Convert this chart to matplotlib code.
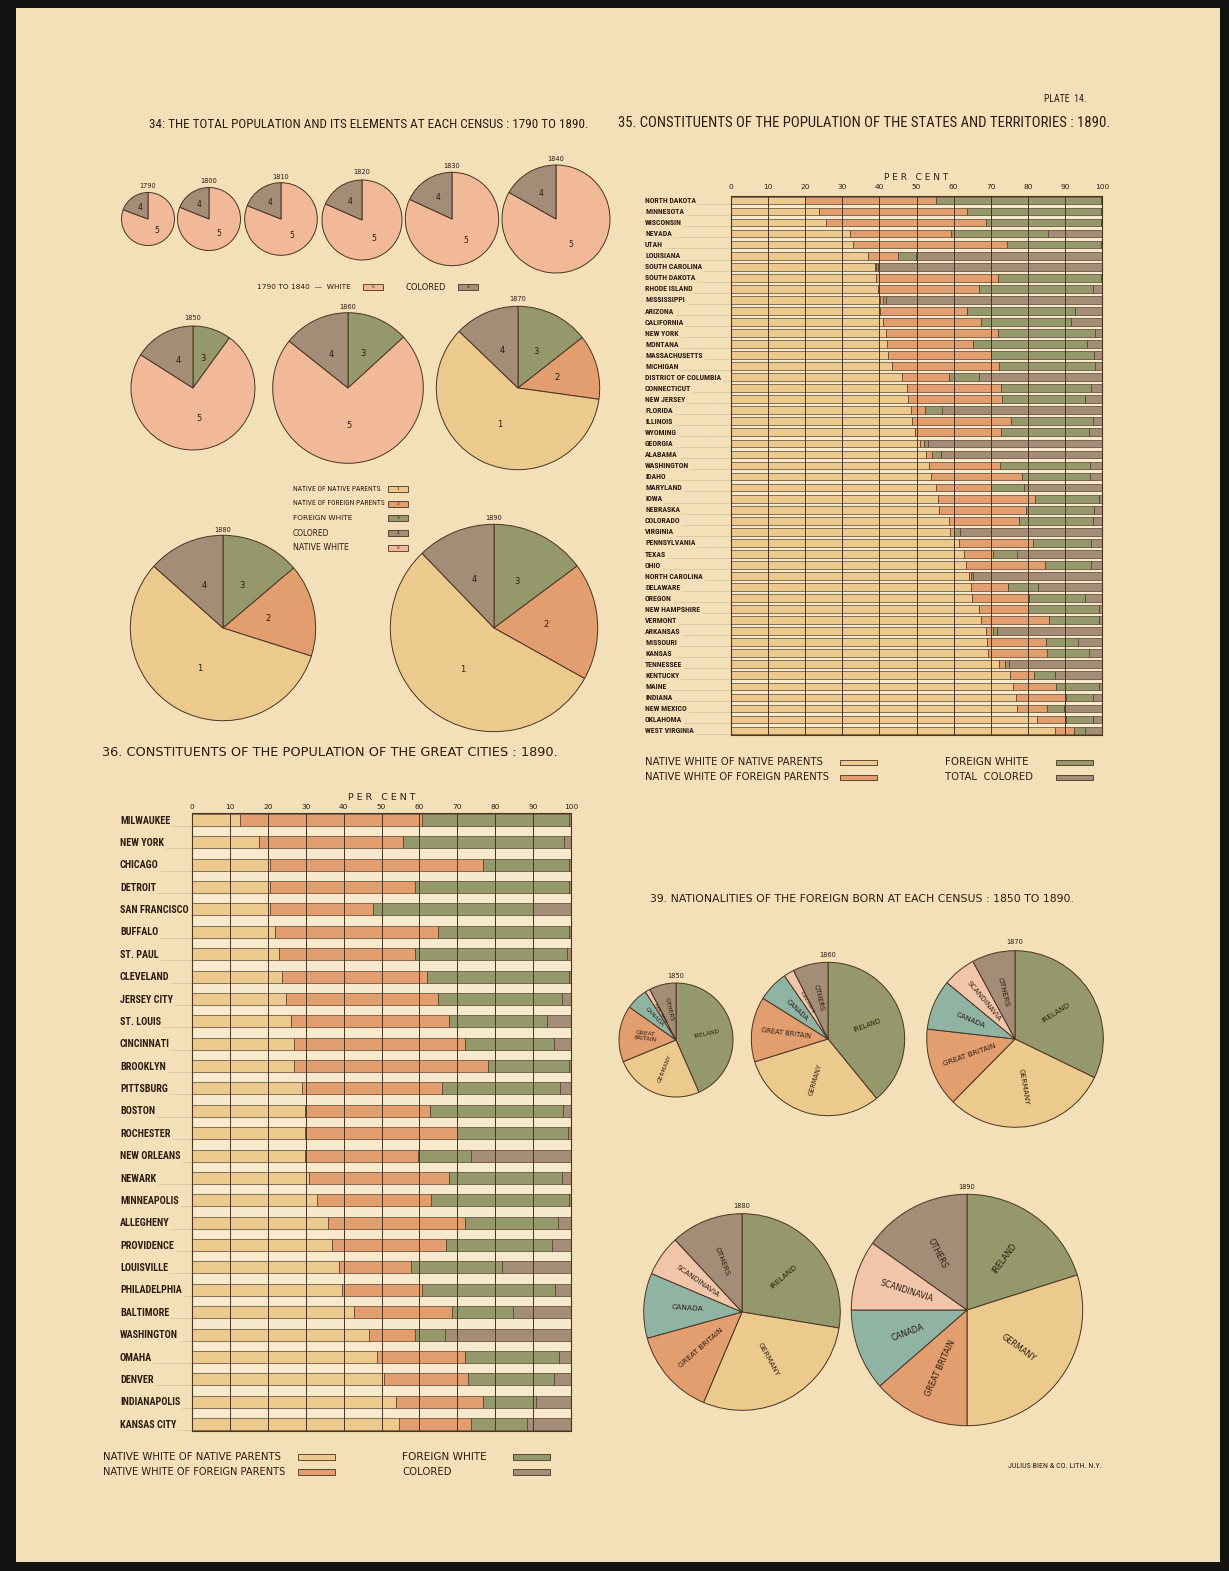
import matplotlib
matplotlib.use("Agg")
import matplotlib.pyplot as plt
import numpy as np
from matplotlib.patches import Rectangle
from matplotlib.transforms import blended_transform_factory
from matplotlib import font_manager as fm

W, H = 1229, 1571

# ---------------- DATA ----------------
# Plate 34: total population and its elements (per cent)
years_early = ["1790", "1800", "1810", "1820", "1830", "1840"]
white_early = [80.7, 81.1, 81.0, 81.6, 81.9, 83.2]
colored_early = [19.3, 18.9, 19.0, 18.4, 18.1, 16.8]

years_mid = ["1850", "1860"]
foreign_mid = [10.0, 13.2]
native_white_mid = [74.0, 72.5]
colored_mid = [16.0, 14.3]

years_late = ["1870", "1880", "1890"]
foreign_late = [14.4, 13.8, 14.8]
native_foreign_par_late = [12.8, 16.1, 18.3]
native_native_par_late = [60.0, 56.7, 54.7]
colored_late = [12.8, 13.4, 12.2]

# Plate 35: states and territories, 1890 (per cent)
states = ["NORTH DAKOTA", "MINNESOTA", "WISCONSIN", "NEVADA", "UTAH", "LOUISIANA",
          "SOUTH CAROLINA", "SOUTH DAKOTA", "RHODE ISLAND", "MISSISSIPPI", "ARIZONA",
          "CALIFORNIA", "NEW YORK", "MONTANA", "MASSACHUSETTS", "MICHIGAN",
          "DISTRICT OF COLUMBIA", "CONNECTICUT", "NEW JERSEY", "FLORIDA", "ILLINOIS",
          "WYOMING", "GEORGIA", "ALABAMA", "WASHINGTON", "IDAHO", "MARYLAND", "IOWA",
          "NEBRASKA", "COLORADO", "VIRGINIA", "PENNSYLVANIA", "TEXAS", "OHIO",
          "NORTH CAROLINA", "DELAWARE", "OREGON", "NEW HAMPSHIRE", "VERMONT", "ARKANSAS",
          "MISSOURI", "KANSAS", "TENNESSEE", "KENTUCKY", "MAINE", "INDIANA",
          "NEW MEXICO", "OKLAHOMA", "WEST VIRGINIA"]
st_native_native = [20.0, 23.6, 25.6, 32.1, 32.8, 37.0, 38.7, 39.0, 39.7, 40.1, 40.2,
                    41.0, 41.7, 42.1, 42.4, 43.4, 46.2, 47.5, 47.8, 48.4, 48.7, 49.6,
                    50.9, 52.6, 53.4, 53.9, 55.2, 55.7, 56.1, 58.8, 59.0, 61.5, 62.8,
                    63.3, 64.2, 64.6, 64.9, 66.9, 67.3, 68.7, 69.1, 69.4, 72.2, 75.1,
                    76.0, 76.7, 77.2, 82.5, 87.2]
st_native_foreign = [35.2, 40.1, 43.2, 27.1, 41.5, 8.1, 0.5, 33.0, 27.1, 1.0, 23.5,
                     26.4, 30.3, 23.2, 27.6, 28.8, 12.5, 25.3, 25.3, 3.9, 26.9, 23.2,
                     1.1, 1.6, 19.1, 24.6, 14.8, 26.2, 23.3, 18.8, 1.2, 19.9, 7.8,
                     21.3, 0.4, 10.1, 15.4, 13.2, 18.4, 1.8, 15.9, 15.8, 1.7, 6.5,
                     11.5, 13.7, 7.9, 7.7, 5.2]
st_foreign_white = [44.6, 36.1, 31.0, 26.3, 25.5, 4.7, 0.4, 27.7, 30.7, 0.8, 28.9,
                    24.3, 26.2, 30.7, 27.9, 26.0, 8.1, 24.3, 22.2, 4.5, 21.9, 23.8,
                    1.2, 2.4, 24.2, 18.2, 9.1, 17.2, 18.5, 20.0, 1.6, 15.6, 6.4,
                    12.4, 0.5, 8.1, 15.2, 19.0, 13.4, 1.3, 8.5, 11.2, 1.0, 5.7,
                    11.8, 7.1, 4.6, 7.3, 2.9]
st_colored = [0.2, 0.2, 0.2, 14.5, 0.2, 50.2, 60.4, 0.3, 2.5, 58.1, 7.4,
              8.3, 1.8, 4.0, 2.1, 1.8, 33.2, 2.9, 4.7, 43.2, 2.5, 3.4,
              46.8, 43.4, 3.3, 3.3, 20.9, 0.9, 2.1, 2.4, 38.2, 3.0, 23.0,
              3.0, 34.9, 17.2, 4.5, 0.9, 0.9, 28.2, 6.5, 3.6, 25.1, 12.7,
              0.7, 2.5, 10.3, 2.5, 4.7]

# Plate 36: great cities, 1890 (per cent)
cities = ["MILWAUKEE", "NEW YORK", "CHICAGO", "DETROIT", "SAN FRANCISCO", "BUFFALO",
          "ST. PAUL", "CLEVELAND", "JERSEY CITY", "ST. LOUIS", "CINCINNATI", "BROOKLYN",
          "PITTSBURG", "BOSTON", "ROCHESTER", "NEW ORLEANS", "NEWARK", "MINNEAPOLIS",
          "ALLEGHENY", "PROVIDENCE", "LOUISVILLE", "PHILADELPHIA", "BALTIMORE",
          "WASHINGTON", "OMAHA", "DENVER", "INDIANAPOLIS", "KANSAS CITY"]
ci_native_native = [12.7, 17.8, 20.7, 20.7, 20.7, 21.8, 22.9, 23.8, 24.9, 26.0, 26.9,
                    26.9, 29.0, 29.7, 29.7, 29.7, 30.9, 33.0, 35.9, 36.9, 38.8, 39.7,
                    42.8, 46.7, 48.9, 50.7, 53.8, 54.7]
ci_native_foreign = [47.9, 37.9, 56.2, 38.1, 27.1, 43.2, 35.9, 38.1, 40.1, 41.9, 45.0,
                     51.1, 36.9, 33.1, 40.1, 30.0, 37.0, 30.1, 36.1, 30.0, 19.1, 21.1,
                     25.7, 12.1, 23.0, 22.0, 23.1, 18.9]
ci_foreign_white = [39.0, 42.4, 22.7, 40.6, 42.3, 34.6, 40.1, 37.5, 32.6, 25.8, 23.7,
                    21.4, 31.1, 35.1, 29.4, 13.9, 29.7, 36.3, 24.6, 28.1, 24.0, 34.9,
                    16.2, 8.0, 25.0, 22.7, 13.9, 14.8]
ci_colored = [0.4, 1.9, 0.4, 0.6, 9.9, 0.4, 1.1, 0.6, 2.4, 6.3, 4.4,
              0.6, 3.0, 2.1, 0.8, 26.4, 2.4, 0.6, 3.4, 5.0, 18.1, 4.3,
              15.3, 33.2, 3.1, 4.6, 9.2, 11.6]

# Plate 39: nationalities of the foreign born (per cent)
fb_years = ["1850", "1860", "1870", "1880", "1890"]
fb_names = ["IRELAND", "GERMANY", "GREAT BRITAIN", "CANADA", "SCANDINAVIA", "OTHERS"]
fb_ireland = [43.4, 39.1, 32.2, 27.6, 20.1]
fb_germany = [25.4, 31.1, 30.2, 28.8, 29.9]
fb_britain = [16.0, 13.7, 14.4, 14.3, 13.6]
fb_canada = [6.2, 6.5, 9.2, 10.7, 11.4]
fb_scandinavia = [1.4, 2.2, 6.1, 6.7, 9.8]
fb_others = [7.6, 7.4, 7.9, 11.9, 15.2]

# ---------------- STYLE ----------------
C_NNP = "#ecc98d"   # native white of native parents
C_NFP = "#e29e6f"   # native white of foreign parents
C_FW = "#95986a"    # foreign white
C_COL = "#a48d76"   # colored
C_NW = "#f2b998"    # native white
C_CAN = "#90b4a4"   # canada
C_SCA = "#f1c5a9"   # scandinavia
PAPER = "#f3e0b8"
AXBG = "#f7e9cb"
EDGE = "#4a3323"
TXT = "#2a1c12"
SANS = ["DejaVu Sans"]


def find_condensed(bold):
    prefs = ["liberation sans narrow", "roboto condensed", "dejavu sans", "noto sans",
             "open sans", "arial narrow", "inter", "lato", "roboto"]
    cands = []
    for f in fm.fontManager.ttflist:
        nm = f.name.lower()
        fn = f.fname.lower()
        st = str(f.stretch).lower()
        cond = ("narrow" in nm or "condensed" in nm or "narrow" in fn or "condensed" in fn
                or st in ("condensed", "semi-condensed", "extra-condensed",
                          "ultra-condensed"))
        if not cond:
            continue
        if "italic" in str(f.style).lower() or "oblique" in str(f.style).lower():
            continue
        if "italic" in fn or "oblique" in fn:
            continue
        if "mono" in nm or "serif" in nm and "sans" not in nm:
            continue
        w = f.weight
        if not isinstance(w, (int, float)):
            w = fm.weight_dict.get(str(w), 400)
        if bold and w < 600:
            continue
        if (not bold) and (w >= 600 or w < 350):
            continue
        if "extra" in fn or "ultra" in fn or "semi" in fn:
            rank_extra = 1
        else:
            rank_extra = 0
        rank = len(prefs)
        for k, p in enumerate(prefs):
            if nm.startswith(p):
                rank = k
                break
        cands.append((rank_extra, rank, f.fname))
    if not cands:
        return None
    cands.sort()
    return cands[0][2]


COND_REG = find_condensed(False)
COND_BOLD = find_condensed(True)


def fprops(bold=False):
    path = COND_BOLD if bold else COND_REG
    if path:
        return dict(fontproperties=fm.FontProperties(fname=path))
    return dict(family=["Liberation Sans", "DejaVu Sans"],
                weight="bold" if bold else "normal")


fig = plt.figure(figsize=(W / 100, H / 100), dpi=100)
fig.patch.set_facecolor("#141312")

ov = fig.add_axes([0, 0, 1, 1])
ov.set_xlim(0, W)
ov.set_ylim(0, H)
ov.set_autoscale_on(False)
ov.axis("off")
ov.add_patch(Rectangle((16, H - 1562), 1204, 1554, facecolor=PAPER, edgecolor="none", zorder=0))

fit_list = []
leader_list = []
label_groups = {}


def T(x, y, s, size=7, cond=False, ha="left", va="center", color=TXT,
      rot=0, width=None, **kw):
    if cond:
        props = fprops(False)
    else:
        props = dict(family=SANS)
    t = ov.text(x, H - y, s, ha=ha, va=va, color=color, rotation=rot,
                rotation_mode="anchor", **props, **kw)
    t.set_fontsize(size)
    if width is not None:
        fit_list.append((t, width))
    return t


def swatch(x0, x1, y, col, h=6, num=None):
    ov.add_patch(Rectangle((x0, H - y - h / 2), x1 - x0, h, facecolor=col,
                           edgecolor=EDGE, linewidth=0.6, zorder=2))
    if num is not None:
        T((x0 + x1) / 2, y, num, size=3.2, ha="center", zorder=3)


def draw_pie(vals, cols, labels, cx, cy, r, fs, dist=0.55, radial=False,
             small_scale=0.6):
    ov.pie(vals, colors=cols, startangle=90, counterclock=False,
           center=(cx, H - cy), radius=r, frame=True,
           wedgeprops=dict(edgecolor=EDGE, linewidth=0.7))
    tot = float(sum(vals))
    cum = 0.0
    for v, lab in zip(vals, labels):
        mid = 90 - 360 * (cum + v / 2) / tot
        cum += v
        th = np.deg2rad(mid)
        x = cx + dist * r * np.cos(th)
        y = cy - dist * r * np.sin(th)
        rot = 0
        if radial:
            rot = (mid + 180) % 360 - 180
            if rot > 90:
                rot -= 180
            elif rot <= -90:
                rot += 180
        size = fs if v / tot > 0.03 else fs * small_scale
        T(x, y, lab, size=size, ha="center", va="center", rot=rot,
          linespacing=1.0, zorder=4)


# ---------------- TITLES ----------------
T(1086, 99, "PLATE  14.", size=8, cond=True, ha="right", width=42)
T(149, 124, "34: THE TOTAL POPULATION AND ITS ELEMENTS AT EACH CENSUS : 1790 TO 1890.",
  size=8.5, cond=True, width=437)
T(618, 123, "35. CONSTITUENTS OF THE POPULATION OF THE STATES AND TERRITORIES : 1890.",
  size=9.5, cond=True, width=492)
T(102, 752, "36. CONSTITUENTS OF THE POPULATION OF THE GREAT CITIES : 1890.",
  size=9.5, width=454)
T(650, 899, "39. NATIONALITIES OF THE FOREIGN BORN AT EACH CENSUS : 1850 TO 1890.",
  size=8.5, width=420)
T(1008, 1466, "JULIUS BIEN & CO. LITH. N.Y.", size=3.5, cond=True, width=92)

# ---------------- PLATE 34 PIES ----------------
early_pos = [(148, 219, 26.5), (209, 219, 31.5), (281, 219, 36.3),
             (362, 220, 40.0), (452, 219, 46.7), (556, 219, 54.0)]
early_year_y = [186, 181, 177, 172, 166, 159]
for i, (cx, cy, r) in enumerate(early_pos):
    draw_pie([white_early[i], colored_early[i]], [C_NW, C_COL], ["5", "4"],
             cx, cy, r, 5.5, dist=0.55)
    T(cx, early_year_y[i], years_early[i], size=4.8, ha="center")

T(257, 287, "1790 TO 1840  —  WHITE", size=5, width=95)
swatch(363, 383, 287, C_NW, num="5")
T(405, 287, "COLORED", size=5, width=40)
swatch(458, 478, 287, C_COL, num="4")

mid_pos = [(193, 388, 62.0), (348, 388, 75.3)]
mid_year_y = [318, 307]
for i, (cx, cy, r) in enumerate(mid_pos):
    draw_pie([foreign_mid[i], native_white_mid[i], colored_mid[i]],
             [C_FW, C_NW, C_COL], ["3", "5", "4"], cx, cy, r, 6, dist=0.5)
    T(cx, mid_year_y[i], years_mid[i], size=4.8, ha="center")

late_pos = [(518, 388, 81.7), (223, 628, 92.7), (494, 628, 103.7)]
late_year_y = [299, 530, 518]
for i, (cx, cy, r) in enumerate(late_pos):
    draw_pie([foreign_late[i], native_foreign_par_late[i], native_native_par_late[i],
              colored_late[i]], [C_FW, C_NFP, C_NNP, C_COL], ["3", "2", "1", "4"],
             cx, cy, r, 6, dist=0.5)
    T(cx, late_year_y[i], years_late[i], size=4.8, ha="center")

pie_legend = [("NATIVE OF NATIVE PARENTS", C_NNP, "1"),
              ("NATIVE OF FOREIGN PARENTS", C_NFP, "2"),
              ("FOREIGN WHITE", C_FW, "3"),
              ("COLORED", C_COL, "4"),
              ("NATIVE WHITE", C_NW, "5")]
pie_leg_widths = [88, 92, 60, 37, 56]
pie_leg_cond = [True, True, False, False, False]
for k, (lab, col, num) in enumerate(pie_legend):
    y = 489 + k * 14.7
    T(293, y, lab, size=4.3, cond=pie_leg_cond[k], width=pie_leg_widths[k])
    swatch(388, 408, y, col, num=num)

# ---------------- PLATE 39 PIES ----------------
fb_pos = [(676, 1040, 57.0), (828, 1039, 76.7), (1015, 1039, 88.3),
          (742, 1312, 98.3), (967, 1310, 115.7)]
fb_year_y = [976, 955, 942, 1206, 1187]
fb_fs = [4.2, 4.8, 5.3, 5.4, 5.9]
fb_cols = [C_FW, C_NNP, C_NFP, C_CAN, C_SCA, C_COL]
for i, (cx, cy, r) in enumerate(fb_pos):
    vals = [fb_ireland[i], fb_germany[i], fb_britain[i], fb_canada[i],
            fb_scandinavia[i], fb_others[i]]
    labs = list(fb_names)
    if i == 0:
        labs[2] = "GREAT\nBRITAIN"
    draw_pie(vals, fb_cols, labs, cx, cy, r, fb_fs[i], dist=0.55, radial=True,
             small_scale=0.55)
    T(cx, fb_year_y[i], fb_years[i], size=4.8, ha="center")


# ---------------- BAR CHARTS ----------------
def px_axes(x0, y0, x1, y1):
    return fig.add_axes([x0 / W, 1 - y1 / H, (x1 - x0) / W, (y1 - y0) / H])


def bar_chart(key, ax, names, series, colors, h, ylim, tick_fs, lab_x_px, lab_fs, x0px,
              x1px, percent_fs, lpad, xlpad):
    n = len(names)
    y = np.arange(n)
    left = np.zeros(n)
    for vals, col in zip(series, colors):
        v = np.array(vals, dtype=float)
        ax.barh(y, v, left=left, height=h, color=col, edgecolor=EDGE, linewidth=0.45,
                zorder=2)
        left += v
    ax.set_xlim(0, 100)
    ax.set_ylim(*ylim)
    ax.set_facecolor(AXBG)
    ax.set_xticks(range(0, 101, 10))
    ax.set_yticks([])
    ax.xaxis.tick_top()
    ax.tick_params(axis="x", length=0, pad=lpad, labelsize=tick_fs, labelcolor=TXT)
    for lbl in ax.get_xticklabels():
        lbl.set_family(SANS)
    ax.xaxis.set_label_position("top")
    ax.set_xlabel("P E R   C E N T", fontsize=percent_fs, family=SANS, color=TXT,
                  labelpad=xlpad)
    ax.grid(axis="x", color=EDGE, linewidth=0.7)
    ax.set_axisbelow(False)
    for s in ax.spines.values():
        s.set_color(EDGE)
        s.set_linewidth(0.8)
    tr = blended_transform_factory(ax.transAxes, ax.transData)
    xa = (lab_x_px - x0px) / (x1px - x0px)
    group = []
    for i, nm in enumerate(names):
        t = ax.text(xa, i + h / 2 - 0.02, nm, transform=tr, ha="left", va="bottom",
                    color=TXT, clip_on=False, **fprops(True))
        t.set_fontsize(lab_fs)
        leader_list.append((ax, t, i + h / 2))
        group.append(t)
    label_groups[key] = group


ax35 = px_axes(731, 196, 1102, 735)
bar_chart("35", ax35, states,
          [st_native_native, st_native_foreign, st_foreign_white, st_colored],
          [C_NNP, C_NFP, C_FW, C_COL], 0.7, (48.4, -0.4), 5.3, 645, 4.8, 731, 1102,
          6.5, 4.0, 3.0)

ax36 = px_axes(192, 813, 571, 1431)
bar_chart("36", ax36, cities,
          [ci_native_native, ci_native_foreign, ci_foreign_white, ci_colored],
          [C_NNP, C_NFP, C_FW, C_COL], 0.54, (27.31, -0.31), 5.3, 120, 6.8, 192, 571,
          6.8, 2.0, 3.0)

# legends for bar charts
leg35 = [(645, 762, "NATIVE WHITE OF NATIVE PARENTS", 840, 877, C_NNP, 179),
         (645, 777, "NATIVE WHITE OF FOREIGN PARENTS", 840, 877, C_NFP, 187),
         (945, 762, "FOREIGN WHITE", 1056, 1093, C_FW, 85),
         (945, 777, "TOTAL  COLORED", 1056, 1093, C_COL, 89)]
for x, y, s, b0, b1, col, wd in leg35:
    T(x, y, s, size=6, width=wd)
    swatch(b0, b1, y, col, h=5)
leg36 = [(103, 1457, "NATIVE WHITE OF NATIVE PARENTS", 298, 335, C_NNP, 179),
         (103, 1472, "NATIVE WHITE OF FOREIGN PARENTS", 298, 335, C_NFP, 185),
         (402, 1457, "FOREIGN WHITE", 513, 550, C_FW, 86),
         (402, 1472, "COLORED", 513, 550, C_COL, 50)]
for x, y, s, b0, b1, col, wd in leg36:
    T(x, y, s, size=6, width=wd)
    swatch(b0, b1, y, col, h=6)

# ---------------- FIT TEXT WIDTHS AND DRAW LEADERS ----------------
fig.canvas.draw()
rend = fig.canvas.get_renderer()
for t, wtarget in fit_list:
    bb = t.get_window_extent(rend)
    if bb.width > 0:
        t.set_fontsize(t.get_fontsize() * wtarget / bb.width)

# scale row labels: reference label widths, but never past the axis
ref_widths = {"35": (0, 50.0, 731 - 645 - 4), "36": (0, 50.0, 192 - 120 - 4)}
for key, (idx, target, maxw) in ref_widths.items():
    grp = label_groups[key]
    bw = grp[idx].get_window_extent(rend).width
    mx = max(t.get_window_extent(rend).width for t in grp)
    if bw > 0:
        sc = min(target / bw, maxw / mx)
        for t in grp:
            t.set_fontsize(t.get_fontsize() * sc)

fig.canvas.draw()
rend = fig.canvas.get_renderer()
for ax, t, yy in leader_list:
    bb = t.get_window_extent(rend)
    xs = ax.transAxes.inverted().transform((bb.x1 + 2, bb.y0))[0]
    tr = blended_transform_factory(ax.transAxes, ax.transData)
    ax.plot([xs, 0], [yy, yy], transform=tr, color=EDGE, linewidth=0.4,
            linestyle=(0, (0.6, 1.4)), clip_on=False, alpha=0.7)

ov.set_xlim(0, W)
ov.set_ylim(0, H)
fig.savefig("out.png", dpi=100, facecolor=fig.get_facecolor())
